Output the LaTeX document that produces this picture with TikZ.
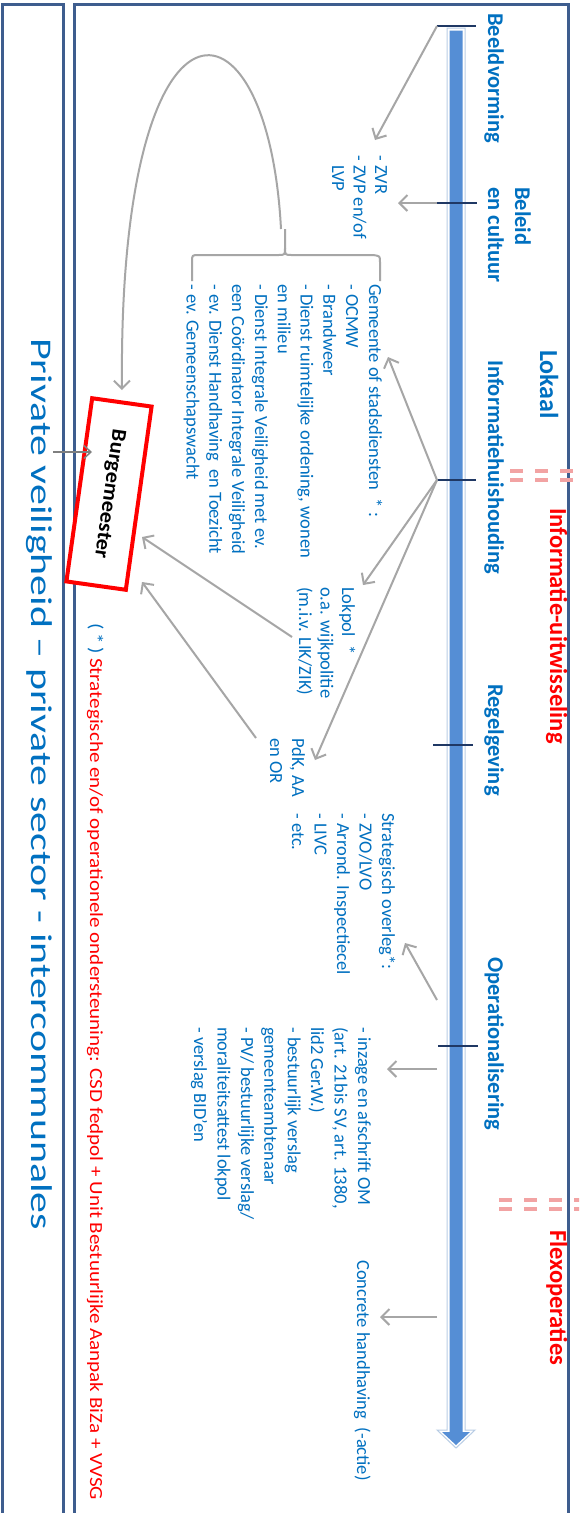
\documentclass[tikz,border=0pt]{standalone}
\usepackage{graphicx}
\usepackage{fontspec}
\setmainfont{Carlito}
\usetikzlibrary{arrows.meta}
\definecolor{txtblue}{HTML}{0070C0}
\definecolor{txtred}{HTML}{FF0000}
\definecolor{framecol}{HTML}{3E5D8E}
\definecolor{arrowgray}{HTML}{A6A6A6}
\definecolor{darkgray}{HTML}{7F7F7F}
\definecolor{tickblue}{HTML}{1F3864}
\definecolor{barblue}{HTML}{558ED5}
\definecolor{barline}{HTML}{B9CDE5}
\definecolor{dashred}{HTML}{F2A3A3}
\tikzset{
  vtxt/.style={rotate=-90, anchor=base west, inner sep=0pt, text=txtblue},
  body/.style={vtxt, font=\fontsize{18.5}{22.8}\selectfont},
  lbl/.style={vtxt, font=\fontsize{22.5}{27}\selectfont\bfseries},
  redlbl/.style={vtxt, font=\fontsize{24.5}{29}\selectfont\bfseries, text=txtred},
  garrow/.style={draw=arrowgray, line width=2pt, -{Straight Barb[length=8pt,width=16pt]}},
  darrow/.style={draw=darkgray, line width=1.5pt, -{Straight Barb[length=7pt,width=13pt]}},
  tickmark/.style={draw=tickblue, line width=2.5pt},
  framebox/.style={draw=framecol, line width=3pt},
  reddash/.style={draw=dashred, line width=4pt, dash pattern=on 13pt off 12pt},
  bracepath/.style={draw=arrowgray, line width=2pt},
}
\newcommand\blk[1]{\begin{tabular}[t]{@{}l@{}}#1\end{tabular}}
\begin{document}
\begin{tikzpicture}[x=1pt,y=-1pt]
\useasboundingbox (0,0) rectangle (579,1513);
\clip (0,0) rectangle (579,1513);
\fill[white] (0,0) rectangle (579,1513);
% frames
\draw[framebox] (2.5,4.5) rectangle (63.5,1530);
\draw[framebox] (74.5,4.5) rectangle (568,1530);
% blue bar arrow
\draw[draw=barline, line width=1pt, fill=white] (447,28) -- (465,28) -- (465,1430) -- (475,1430) -- (456,1448) -- (437,1430) -- (447,1430) -- cycle;
\fill[barblue] (449.5,30.5) -- (462.5,30.5) -- (462.5,1432) -- (470,1432) -- (456,1445) -- (442,1432) -- (449.5,1432) -- cycle;
% ticks
\draw[tickmark] (437,26) -- (476,26);
\draw[tickmark] (437,203) -- (477,203);
\draw[tickmark] (437,480) -- (476,480);
\draw[tickmark] (433,745) -- (473,745);
\draw[tickmark] (438,1046) -- (478,1046);
% red dashed double lines
\draw[reddash] (510,470.5) -- (590,470.5);
\draw[reddash] (510,479.5) -- (590,479.5);
\draw[reddash] (499,1199.5) -- (590,1199.5);
\draw[reddash] (499,1208.5) -- (590,1208.5);
% labels at the bar
\node[lbl] (beeld) at (488,13) {Beeldvorming};
\node[lbl] (beleid) at (515,187) {\blk{Beleid\\en cultuur}};
\node[vtxt, font=\fontsize{26}{30}\selectfont\bfseries] (lokaal) at (540,350) {Lokaal};
\node[lbl] (infoh) at (488,360) {Informatiehuishouding};
\node[lbl] (regel) at (488,684) {Regelgeving};
\node[lbl] (oper) at (488,957) {Operationalisering};
\node[redlbl] (infou) at (550,508) {Informatie-uitwisseling};
\node[redlbl] (flex) at (550,1230) {Flexoperaties};
% body blocks
\node[body, font=\fontsize{18.5}{21.5}\selectfont] (zvr) at (375,155) {\blk{- ZVR\\- ZVP en/of\\\phantom{- }LVP}};
\node[body] (gem) at (369,284) {\blk{Gemeente of stadsdiensten \ * :\\- OCMW\\- Brandweer\\- Dienst ruimtelijke ordening, wonen\\en milieu\\- Dienst Integrale Veiligheid met ev.\\een Co\"ordinator Integrale Veiligheid\\- ev. Dienst Handhaving \ en Toezicht\\- ev. Gemeenschapswacht}};
\node[body, font=\fontsize{18.5}{21.5}\selectfont] (lokpol) at (342,587) {\blk{Lokpol \ *\\o.a. wijkpolitie\\(m.i.v. LIK/ZIK)}};
\node[body, font=\fontsize{18.5}{22}\selectfont] (pdk) at (292,738) {\blk{PdK, AA\\en OR}};
\node[body, font=\fontsize{18.5}{22.5}\selectfont] (strat) at (382,813) {\blk{Strategisch overleg*:\\- ZVO/LVO\\- Arrond. Inspectiecel\\- LIVC\\- etc.}};
\node[body, font=\fontsize{18.5}{23.4}\selectfont] (inz) at (358,1027) {\blk{- inzage en afschrift OM\\(art. 21bis SV, art. 1380,\\lid2 Ger.W.)\\- bestuurlijk verslag\\gemeenteambtenaar\\- PV/ bestuurlijke verslag/\\moraliteitsattest lokpol\\- verslag BID’en}};
\node[body] (conc) at (357,1260) {Concrete handhaving \ (-actie)};
\node[body] (fn) at (90,623) {\resizebox{877pt}{\height}{(\,*\,) \textcolor{txtred}{Strategische en/of operationele ondersteuning: CSD fedpol + Unit Bestuurlijke Aanpak BiZa + VVSG}}};
\node[vtxt, font=\fontsize{30}{36}\selectfont] (priv) at (31,338) {\resizebox{892pt}{\height}{Private veiligheid – private sector - intercommunales}};
% Burgemeester
\node[draw=red, line width=4pt, fill=white, rotate=-98, minimum width=185pt, minimum height=60pt, inner sep=0pt, font=\fontsize{21}{25}\selectfont\bfseries] (burg) at (109,494) {\resizebox{130pt}{\height}{Burgemeester}};
% brace
\draw[bracepath] (380,281) -- (380,262) .. controls (380,256) .. (373,255) -- (292,255) .. controls (285,255) .. (285,248) -- (285,229);
\draw[bracepath] (285,248) .. controls (285,255) .. (278,255) -- (199,255) .. controls (192,255) .. (192,262) -- (192,281);
% coordinates for connectors
\coordinate (tA) at (437,26);
\coordinate (tB) at (437,203);
\coordinate (tC) at (437,480);
\coordinate (tD) at (437,1000);
\coordinate (tE) at (437,1069);
\coordinate (tF) at (437,1317);
\coordinate (zvrIn) at (375,140);
\coordinate (zvrIn2) at (398,203);
\coordinate (gemIn) at (388,357);
\coordinate (lokIn) at (363,585);
\coordinate (pdkIn) at (315,760);
\coordinate (lokOut) at (292,637);
\coordinate (pdkOut) at (256,738);
\coordinate (burgIn1) at (142,537);
\coordinate (burgIn2) at (142,582);
\coordinate (burgIn0) at (92,452);
\coordinate (privOut) at (53,452);
\coordinate (stratIn) at (405,943);
\coordinate (inzIn) at (387,1069);
\coordinate (concIn) at (380,1317);
\coordinate (braceTip) at (281,229);
\coordinate (burgTop) at (122,390);
% connectors
\draw[garrow] (tA) -- (zvrIn);
\draw[garrow] (tB) -- (zvrIn2);
\draw[garrow] (tC) -- (gemIn);
\draw[garrow] (tC) -- (lokIn);
\draw[garrow] (tC) -- (pdkIn);
\draw[garrow] (lokOut) -- (burgIn1);
\draw[garrow] (pdkOut) -- (burgIn2);
\draw[garrow] (tD) -- (stratIn);
\draw[garrow] (tE) -- (inzIn);
\draw[garrow] (tF) -- (concIn);
\draw[darrow] (privOut) -- (burgIn0);
\draw[garrow] (braceTip) .. controls (268,-20) and (118,-30) .. (burgTop);
\end{tikzpicture}
\end{document}
